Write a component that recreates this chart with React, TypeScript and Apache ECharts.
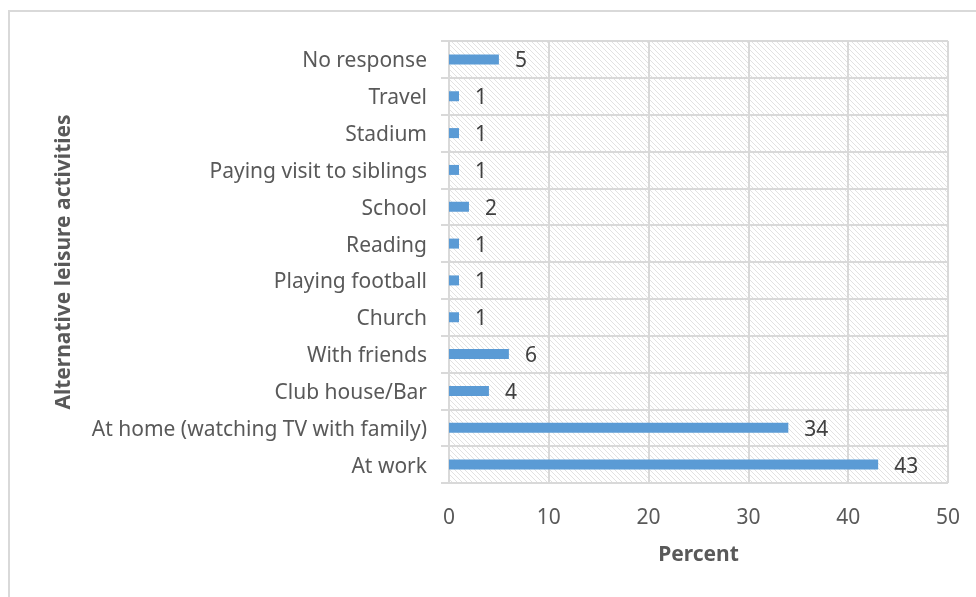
import React, { useEffect, useRef } from "react";
import * as echarts from "echarts";

const categories = [
  "At work",
  "At home (watching TV with family)",
  "Club house/Bar",
  "With friends",
  "Church",
  "Playing football",
  "Reading",
  "School",
  "Paying visit to siblings",
  "Stadium",
  "Travel",
  "No response",
];
const values = [43, 34, 4, 6, 1, 1, 1, 2, 1, 1, 1, 5];
const xTitle = "Percent";
const yTitle = "Alternative leisure activities";

function makeHatch(): HTMLCanvasElement {
  const s = 5;
  const c = document.createElement("canvas");
  c.width = s;
  c.height = s;
  const ctx = c.getContext("2d")!;
  ctx.fillStyle = "#ffffff";
  ctx.fillRect(0, 0, s, s);
  ctx.strokeStyle = "#e2e2e2";
  ctx.lineWidth = 1;
  for (let i = -1; i <= 1; i++) {
    ctx.beginPath();
    ctx.moveTo(i * s, 0);
    ctx.lineTo(i * s + s, s);
    ctx.stroke();
  }
  return c;
}

export default function App() {
  const ref = useRef<HTMLDivElement>(null);
  useEffect(() => {
    if (!ref.current) return;
    const chart = echarts.init(ref.current, undefined, { renderer: "svg" });
    const font = "Noto Sans";
    const fs = 21;
    chart.setOption({
      animation: false,
      textStyle: { fontFamily: font },
      graphic: [
        {
          type: "rect",
          shape: { x: 9, y: 11, width: 1000, height: 700 },
          style: { fill: "none", stroke: "#d9d9d9", lineWidth: 2 },
          silent: true,
        },
      ],
      grid: {
        left: 449,
        right: 28,
        top: 41,
        bottom: 114,
        show: true,
        borderWidth: 0,
        backgroundColor: { image: makeHatch(), repeat: "repeat" },
      },
      xAxis: {
        type: "value",
        min: 0,
        max: 50,
        interval: 10,
        name: xTitle,
        nameLocation: "middle",
        nameGap: 59,
        nameTextStyle: { fontSize: fs, fontWeight: "bold", color: "#595959", fontFamily: font },
        axisLine: { show: false },
        axisTick: { show: false },
        axisLabel: { fontSize: fs, color: "#595959", margin: 22, fontFamily: font },
        splitLine: { show: true, lineStyle: { color: "#d9d9d9", width: 2 } },
      },
      yAxis: {
        type: "category",
        data: categories,
        name: yTitle,
        nameLocation: "middle",
        nameGap: 377,
        nameRotate: 90,
        nameTextStyle: { fontSize: fs, fontWeight: "bold", color: "#595959", fontFamily: font },
        axisLine: { show: true, lineStyle: { color: "#d9d9d9", width: 2 } },
        axisTick: { show: true, length: 8, lineStyle: { color: "#d9d9d9", width: 2 } },
        axisLabel: { fontSize: fs, color: "#595959", margin: 22, fontFamily: font },
        splitLine: { show: true, lineStyle: { color: "#d9d9d9", width: 2 } },
      },
      series: [
        {
          type: "bar",
          data: values,
          barWidth: 10,
          itemStyle: { color: "#5b9bd5" },
          label: {
            show: true,
            position: "right",
            distance: 16,
            fontSize: fs,
            color: "#404040",
            fontFamily: font,
          },
        },
      ],
    });
    return () => chart.dispose();
  }, []);
  return (
    <div
      ref={ref}
      style={{ position: "fixed", left: 0, top: 0, width: 976, height: 597 }}
    />
  );
}
